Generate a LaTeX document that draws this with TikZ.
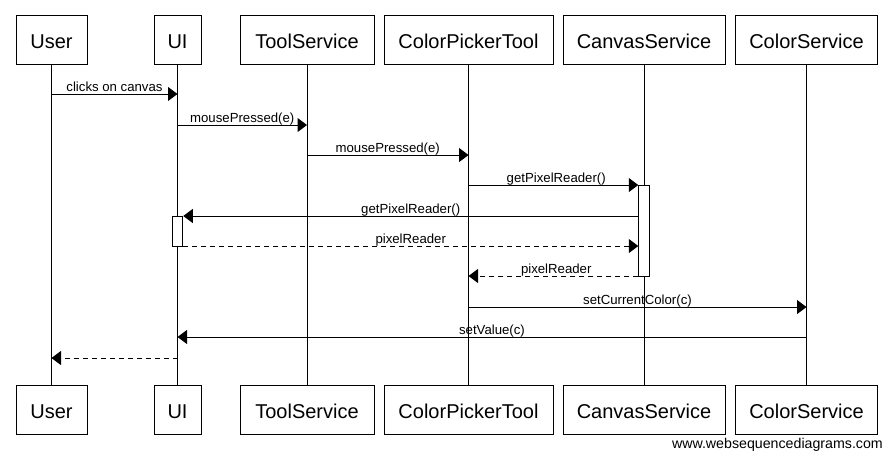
\documentclass[tikz,border=0pt]{standalone}
\usepackage{fontspec}
\setmainfont{Liberation Sans}
\usetikzlibrary{arrows.meta,calc}
\begin{document}
\begin{tikzpicture}[x=1pt,y=-1pt,
  actor/.style={draw, line width=1pt, minimum height=49pt, inner sep=0pt,
    font=\fontsize{20}{24}\selectfont, text height=17pt, text depth=0pt},
  life/.style={line width=1pt},
  msg/.style={-{Triangle[length=9.5pt,width=14pt]}, line width=1pt},
  ret/.style={msg, dash pattern=on 5pt off 4pt},
  lbl/.style={font=\fontsize{13.2}{15}\selectfont, inner sep=0pt, anchor=base, yshift=3pt},
  actbox/.style={draw, fill=white, line width=1pt, minimum width=10.5pt, inner sep=0pt}]
\useasboundingbox (0,0) rectangle (892,459);
\fill[white] (0,0) rectangle (892,459);
% heads
\node[actor, minimum width=71pt]  (userT) at (51.5,39.5)  {User};
\node[actor, minimum width=47pt]  (uiT)   at (177.5,39.5) {UI};
\node[actor, minimum width=134pt] (toolT) at (307,39.5)   {ToolService};
\node[actor, minimum width=169pt] (cptT)  at (468.5,39.5) {ColorPickerTool};
\node[actor, minimum width=162pt] (canT)  at (644,39.5)   {CanvasService};
\node[actor, minimum width=142pt] (colT)  at (806.5,39.5) {ColorService};
% tails
\node[actor, minimum width=71pt]  (userB) at (51.5,409.5)  {User};
\node[actor, minimum width=47pt]  (uiB)   at (177.5,409.5) {UI};
\node[actor, minimum width=134pt] (toolB) at (307,409.5)   {ToolService};
\node[actor, minimum width=169pt] (cptB)  at (468.5,409.5) {ColorPickerTool};
\node[actor, minimum width=162pt] (canB)  at (644,409.5)   {CanvasService};
\node[actor, minimum width=142pt] (colB)  at (806.5,409.5) {ColorService};
% lifelines
\draw[life] (userT) -- (userB);
\draw[life] (uiT) -- (uiB);
\draw[life] (toolT) -- (toolB);
\draw[life] (cptT) -- (cptB);
\draw[life] (canT) -- (canB);
\draw[life] (colT) -- (colB);
% message rows
\coordinate (y1) at (0,94);
\coordinate (y2) at (0,125);
\coordinate (y3) at (0,155);
\coordinate (y4) at (0,185);
\coordinate (y5) at (0,216);
\coordinate (y6) at (0,246);
\coordinate (y7) at (0,276);
\coordinate (y8) at (0,307);
\coordinate (y9) at (0,337);
\coordinate (y10) at (0,358);
% activations
\node[actbox, minimum height=91pt, anchor=north] (canAct) at (canT.south |- y4) {};
\node[actbox, minimum height=30pt, anchor=north] (uiAct) at (uiT.south |- y5) {};
% messages
\draw[msg] (userT |- y1) -- (uiT |- y1);
\node[lbl] (l1) at ($(userT |- y1)!0.5!(uiT |- y1)$) {clicks on canvas};
\draw[msg] (uiT |- y2) -- (toolT |- y2);
\node[lbl] (l2) at ($(uiT |- y2)!0.5!(toolT |- y2)$) {mousePressed(e)};
\draw[msg] (toolT |- y3) -- (cptT |- y3);
\node[lbl] (l3) at ($(toolT |- y3)!0.5!(cptT |- y3)$) {mousePressed(e)};
\draw[msg] (cptT |- y4) -- (canAct.west |- y4);
\node[lbl] (l4) at ($(cptT |- y4)!0.5!(canT |- y4)$) {getPixelReader()};
\draw[msg] (canAct.west |- y5) -- (uiAct.east |- y5);
\node[lbl] (l5) at ($(canT |- y5)!0.5!(uiT |- y5)$) {getPixelReader()};
\draw[ret] (uiAct.east |- y6) -- (canAct.west |- y6);
\node[lbl] (l6) at ($(uiT |- y6)!0.5!(canT |- y6)$) {pixelReader};
\draw[ret] (canAct.west |- y7) -- (cptT |- y7);
\node[lbl] (l7) at ($(canT |- y7)!0.5!(cptT |- y7)$) {pixelReader};
\draw[msg] (cptT |- y8) -- (colT |- y8);
\node[lbl] (l8) at ($(cptT |- y8)!0.5!(colT |- y8)$) {setCurrentColor(c)};
\draw[msg] (colT |- y9) -- (uiT |- y9);
\node[lbl] (l9) at ($(colT |- y9)!0.5!(uiT |- y9)$) {setValue(c)};
\draw[ret] (uiT |- y10) -- (userT |- y10);
% footer
\node[font=\fontsize{14.2}{17}\selectfont, anchor=base east, inner sep=0pt] (wsd) at (883,448) {www.websequencediagrams.com};
\end{tikzpicture}
\end{document}
